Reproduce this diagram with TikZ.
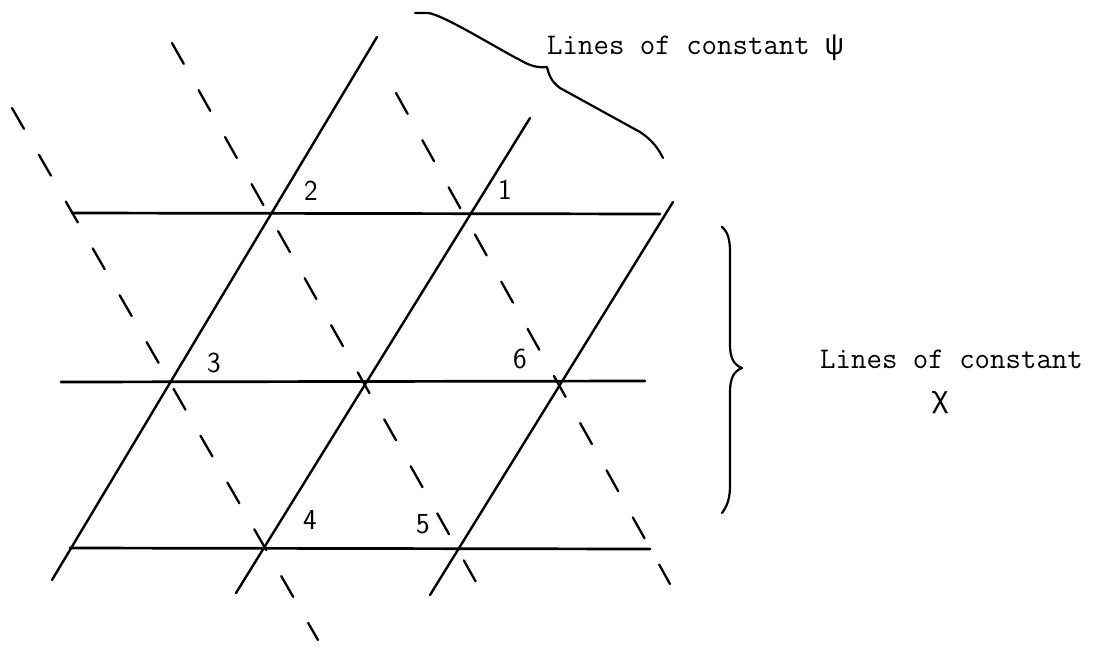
\documentclass[tikz,border=0pt]{standalone}
\usepackage{fontspec}
\newfontfamily\greekfont{Liberation Mono}
\usetikzlibrary{positioning}

\begin{document}
\begin{tikzpicture}[x=1pt, y=-1pt, line cap=round,
psiline/.style={line width=2.4pt},
chiline/.style={line width=2.7pt},
dashline/.style={line width=2.3pt, dash pattern=on 24pt off 30pt},
brace/.style={line width=2.2pt, line join=round},
point/.style={font=\sffamily\fontsize{29}{29}\selectfont, inner sep=0pt},
caption/.style={font=\ttfamily\fontsize{30}{30}\selectfont, inner sep=0pt, anchor=base west}]
    \useasboundingbox (0,0) rectangle (1108,648);

    % lines of constant chi
    \coordinate (CHI_1W) at (72,213);  \coordinate (CHI_1E) at (660,214);
    \coordinate (CHI_2W) at (61,382);  \coordinate (CHI_2E) at (645,381);
    \coordinate (CHI_3W) at (70,548);  \coordinate (CHI_3E) at (650,549);
    \draw[chiline] (CHI_1W) -- (CHI_1E);
    \draw[chiline] (CHI_2W) -- (CHI_2E);
    \draw[chiline] (CHI_3W) -- (CHI_3E);

    % lines of constant psi
    \coordinate (PSI_1N) at (377,37);  \coordinate (PSI_1S) at (52,580);
    \coordinate (PSI_2N) at (530,118); \coordinate (PSI_2S) at (236,593);
    \coordinate (PSI_3N) at (673,202); \coordinate (PSI_3S) at (430,595);
    \draw[psiline] (PSI_1N) -- (PSI_1S);
    \draw[psiline] (PSI_2N) -- (PSI_2S);
    \draw[psiline] (PSI_3N) -- (PSI_3S);

    % dashed lines
    \coordinate (D_1N) at (12,108);  \coordinate (D_1S) at (318,640);
    \coordinate (D_2N) at (172,43);  \coordinate (D_2S) at (485,598);
    \coordinate (D_3N) at (396,93);  \coordinate (D_3S) at (670,584);
    \draw[dashline] (D_1N) -- (D_1S);
    \draw[dashline] (D_2N) -- (D_2S);
    \draw[dashline] (D_3N) -- (D_3S);

    % numbered points
    \node[point] (P1) at (505,190) {1};
    \node[point] (P2) at (311,191) {2};
    \node[point] (P3) at (214,363) {3};
    \node[point] (P4) at (310,520) {4};
    \node[point] (P5) at (423,524) {5};
    \node[point] (P6) at (520,359) {6};

    % braces and captions
    \draw[brace] (415,13) -- (428,13) .. controls (442,14) and (500,50) .. (520,60)
        .. controls (530,66) and (538,68) .. (547,67)
        .. controls (549,76) and (552,82) .. (560,88) -- (640,132)
        .. controls (652,140) and (658,148) .. (663,158);
    \node[caption] (PSI_TEXT) at (547,54) {Lines of constant {\greekfont ψ}};

    \draw[brace] (722,227) .. controls (728,232) and (730,240) .. (730,252) -- (730,345)
        .. controls (730,358) and (734,365) .. (742,368)
        .. controls (734,371) and (730,378) .. (730,392) -- (730,485)
        .. controls (730,497) and (728,505) .. (722,513);
    \node[caption] (CHI_TEXT) at (820,368) {Lines of constant};
    \node[caption, anchor=base] (CHI_SYM) at (940,407) {\greekfont χ};
\end{tikzpicture}
\end{document}
